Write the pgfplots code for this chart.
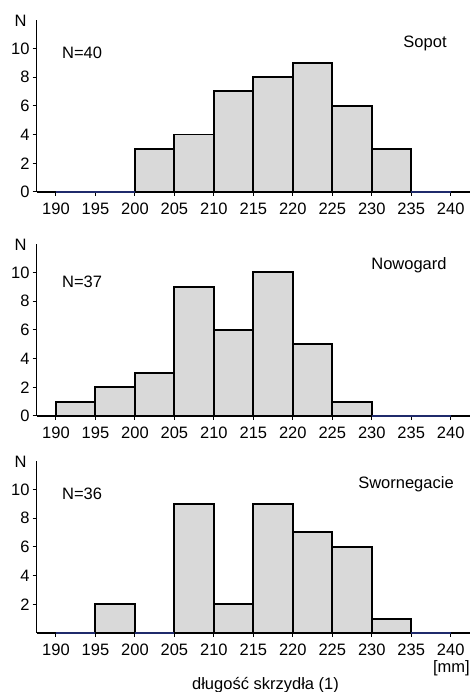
\documentclass[border=0pt]{standalone}
\usepackage{fontspec}
\setmainfont{Liberation Sans}
\usepackage{pgfplots}
\pgfplotsset{compat=1.18}
\definecolor{barfill}{HTML}{D9D9D9}
\definecolor{navyline}{HTML}{1F2A6B}
\pgfplotsset{hist/.style={
  scale only axis, width=433.3pt, height=172.4pt,
  xmin=187.56, xmax=242.44, ymin=0, ymax=12,
  axis lines*=left,
  xtick={190,195,...,240},
  ytick={0,2,...,10},
  tick align=outside,
  major tick length=4pt,
  tick style={black, line width=1pt},
  axis line style={black, line width=1.3pt},
  /pgf/number format/assume math mode=true,
  font=\fontsize{16.5}{19}\selectfont,
  xticklabel style={inner sep=0pt, anchor=north, yshift=-7pt},
  yticklabel style={inner sep=0pt, anchor=east, xshift=-3pt},
  clip=false,
  anchor=south west,
}}
\pgfplotsset{bars/.style={ybar interval, fill=barfill, draw=black, line width=1.9pt}}
\pgfplotsset{zero/.style={navyline, line width=1.3pt}}
\begin{document}
\begin{tikzpicture}
\useasboundingbox (0,0) rectangle (471pt,692pt);
% Panel 1: Sopot
\begin{axis}[hist, at={(36.7pt,500pt)}]
\addplot[bars] coordinates {(190,0)(195,0)(200,3)(205,4)(210,7)(215,8)(220,9)(225,6)(230,3)(235,0)(240,0)};
\addplot[zero] coordinates {(190,0)(200,0)};
\addplot[zero] coordinates {(235,0)(240,0)};
\node[inner sep=0pt, anchor=west] at (axis cs:190.76,9.7) {N=40};
\node[inner sep=0pt, anchor=east] at (axis cs:239.5,10.35) {Sopot};
\node[inner sep=0pt] at ([xshift=-16pt,yshift=-1pt]rel axis cs:0,1) {N};
\end{axis}
% Panel 2: Nowogard
\begin{axis}[hist, at={(36.7pt,276pt)}]
\addplot[bars] coordinates {(190,1)(195,2)(200,3)(205,9)(210,6)(215,10)(220,5)(225,1)(230,0)(235,0)(240,0)};
\addplot[zero] coordinates {(230,0)(240,0)};
\node[inner sep=0pt, anchor=west] at (axis cs:190.76,9.35) {N=37};
\node[inner sep=0pt, anchor=east] at (axis cs:239.5,10.5) {Nowogard};
\node[inner sep=0pt] at ([xshift=-16pt,yshift=-1pt]rel axis cs:0,1) {N};
\end{axis}
% Panel 3: Swornegacie
\begin{axis}[hist, at={(36.7pt,59pt)}, ytick={2,4,...,10}]
\addplot[bars] coordinates {(190,0)(195,2)(200,0)(205,9)(210,2)(215,9)(220,7)(225,6)(230,1)(235,0)(240,0)};
\addplot[zero] coordinates {(190,0)(195,0)};
\addplot[zero] coordinates {(200,0)(205,0)};
\addplot[zero] coordinates {(235,0)(240,0)};
\node[inner sep=0pt, anchor=west] at (axis cs:190.76,9.67) {N=36};
\node[inner sep=0pt, anchor=east] at (axis cs:240.4,10.35) {Swornegacie};
\node[inner sep=0pt] at ([xshift=-16pt,yshift=-1pt]rel axis cs:0,1) {N};
\node[inner sep=0pt, anchor=east] at ([yshift=-35pt]rel axis cs:1,0) {[mm]};
\node[inner sep=0pt] at ([yshift=-52pt]axis cs:216.54,0) {długość skrzydła (1)};
\end{axis}
\end{tikzpicture}
\end{document}
